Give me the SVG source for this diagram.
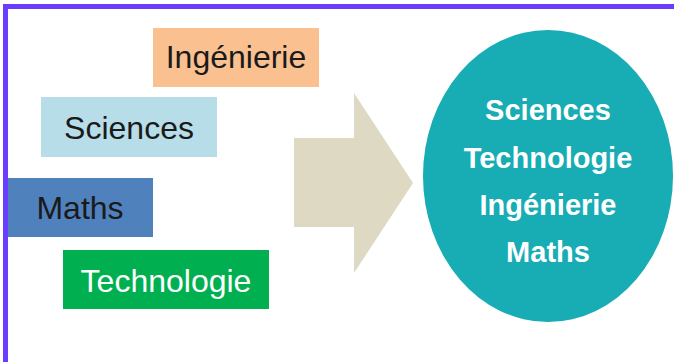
<svg xmlns="http://www.w3.org/2000/svg" width="674" height="362" viewBox="0 0 674 362">
<style>
.lbl{font-family:"Liberation Sans",Arial,sans-serif;font-size:32px;text-anchor:middle}
.ctr{font-family:"Liberation Sans",Arial,sans-serif;font-size:29px;font-weight:bold;fill:#ffffff;text-anchor:middle}
.frame{fill:#6a3cff}
</style>
<rect width="674" height="362" fill="#ffffff"/>
<g id="frame">
<rect class="frame" x="3" y="4" width="671" height="5"/>
<rect class="frame" x="3" y="4" width="5" height="358"/>
</g>
<g id="ingenierie">
<rect x="153" y="28" width="166" height="59" fill="#fac090"/>
<text class="lbl" x="236" y="68" fill="#1a1a1a">Ingénierie</text>
</g>
<g id="sciences">
<rect x="41" y="97" width="176" height="60" fill="#b7dde8"/>
<text class="lbl" x="129" y="139" fill="#1a1a1a">Sciences</text>
</g>
<g id="maths">
<rect x="8" y="178" width="145" height="59" fill="#4f81bd"/>
<text class="lbl" x="80" y="219" fill="#1a1a1a">Maths</text>
</g>
<g id="technologie">
<rect x="63" y="250" width="206" height="59" fill="#00b050"/>
<text class="lbl" x="166" y="292" fill="#ffffff">Technologie</text>
</g>
<g id="connectors">
<path d="M294 138 H354 V93 L413 183 L354 273 V227 H294 Z" fill="#ddd9c3"/>
</g>
<g id="stem">
<ellipse cx="548" cy="176" rx="125" ry="146" fill="#18acb4"/>
<text class="ctr" x="548" y="120">Sciences</text>
<text class="ctr" x="548" y="168">Technologie</text>
<text class="ctr" x="548" y="215">Ingénierie</text>
<text class="ctr" x="548" y="262">Maths</text>
</g>
</svg>
